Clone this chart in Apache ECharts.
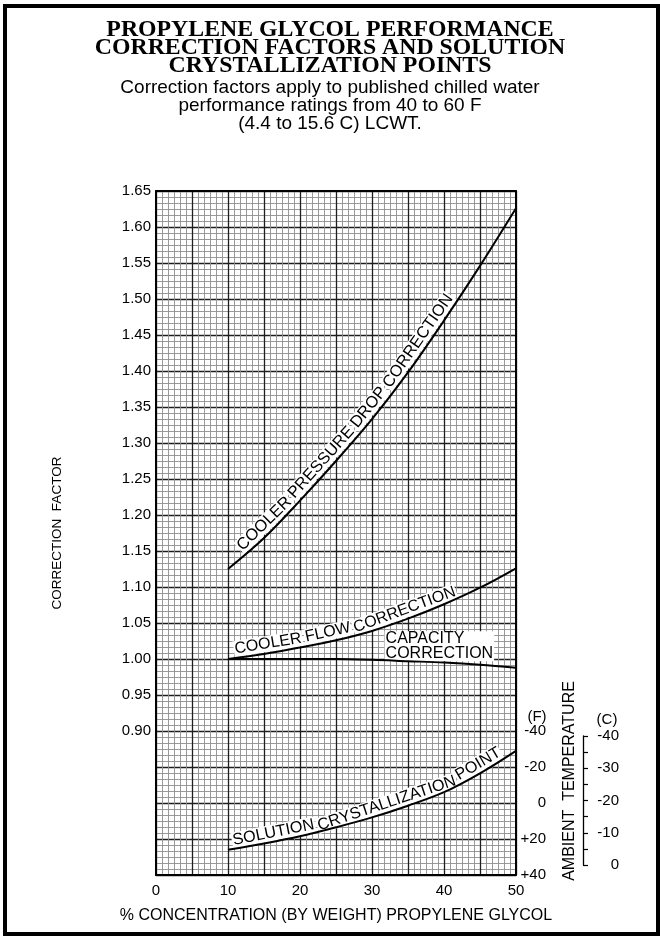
<!DOCTYPE html>
<html><head><meta charset="utf-8">
<script src="https://cdn.jsdelivr.net/npm/echarts/dist/echarts.min.js"></script>
<style>html,body{margin:0;padding:0;background:#fff}#c{width:660px;height:936px}</style>
</head><body><div id="c"></div>
<script>
// ---- data ----
const concentration    = [10, 15, 20, 25, 30, 35, 40, 45, 50];
const pressureDrop     = [1.125, 1.168, 1.220, 1.275, 1.333, 1.398, 1.470, 1.546, 1.626];
const coolerFlow       = [1.000, 1.007, 1.016, 1.026, 1.039, 1.056, 1.076, 1.099, 1.126];
const capacity         = [1.000, 1.000, 1.000, 1.000, 0.999, 0.997, 0.995, 0.992, 0.988];
const crystallizationF = [26, 22.5, 18.5, 13.5, 8, 1.5, -6, -16.5, -29];
const xTicks = [0, 10, 20, 30, 40, 50];
const yTicks = [0.90, 0.95, 1.00, 1.05, 1.10, 1.15, 1.20, 1.25, 1.30, 1.35, 1.40, 1.45, 1.50, 1.55, 1.60, 1.65];
const fTicks = [-40, -20, 0, 20, 40];
const cTicks = [-40, -30, -20, -10, 0];

const titleLines = ['PROPYLENE GLYCOL PERFORMANCE', 'CORRECTION FACTORS AND SOLUTION', 'CRYSTALLIZATION POINTS'];
const subLines = ['Correction factors apply to published chilled water', 'performance ratings from 40 to 60 F', '(4.4 to 15.6 C) LCWT.'];

const SANS = 'Liberation Sans';
const pairs = (xs, ys) => xs.map((x, i) => [x, ys[i]]);
const near = (arr, v) => arr.some(t => Math.abs(t - v) < 1e-6);

const chart = echarts.init(document.getElementById('c'));
const lineStyle = { color: '#000', width: 2 };

chart.setOption({
  animation: false,
  backgroundColor: '#fff',
  grid: [
    { left: 156, top: 191, width: 360, height: 684 },
    { left: 582, top: 736, width: 1, height: 129 }
  ],
  xAxis: [
    { gridIndex: 0, type: 'value', min: 0, max: 50, interval: 5,
      axisLine: { show: true, onZero: false, lineStyle: { color: '#000', width: 2 } },
      axisTick: { show: false },
      axisLabel: { formatter: v => near(xTicks, v) ? String(v) : '', color: '#000', fontSize: 15, fontFamily: SANS, margin: 8 },
      splitLine: { show: true, lineStyle: { color: '#1e1e1e', width: 1.3 } },
      minorTick: { show: false, splitNumber: 6 },
      minorSplitLine: { show: true, lineStyle: { color: '#8e8e8e', width: 0.9 } },
      name: '% CONCENTRATION (BY WEIGHT) PROPYLENE GLYCOL', nameLocation: 'middle', nameGap: 33,
      nameTextStyle: { color: '#000', fontSize: 16, fontFamily: SANS } },
    { gridIndex: 0, type: 'value', position: 'top', min: 0, max: 50,
      axisLine: { show: true, onZero: false, lineStyle: { color: '#000', width: 2 } },
      axisTick: { show: false }, axisLabel: { show: false }, splitLine: { show: false } },
    { gridIndex: 1, type: 'value', min: 0, max: 1, show: false }
  ],
  yAxis: [
    { gridIndex: 0, type: 'value', min: 0.70, max: 1.65, interval: 0.05,
      axisLine: { show: true, onZero: false, lineStyle: { color: '#000', width: 2 } },
      axisTick: { show: false },
      axisLabel: { formatter: v => near(yTicks, v) ? v.toFixed(2) : '', color: '#000', fontSize: 15, fontFamily: SANS, margin: 5 },
      splitLine: { show: true, lineStyle: { color: '#1e1e1e', width: 1.3 } },
      minorTick: { show: false, splitNumber: 6 },
      minorSplitLine: { show: true, lineStyle: { color: '#8e8e8e', width: 0.9 } },
      name: 'CORRECTION  FACTOR', nameLocation: 'middle', nameGap: 92, nameRotate: 90,
      nameTextStyle: { color: '#000', fontSize: 13.5, fontFamily: SANS } },
    { gridIndex: 0, type: 'value', position: 'right', inverse: true, min: -340, max: 40, interval: 20,
      axisLine: { show: true, onZero: false, lineStyle: { color: '#000', width: 2 } },
      axisTick: { show: false }, splitLine: { show: false },
      axisLabel: { formatter: v => near(fTicks, v) ? (v > 0 ? '+' + v : String(v)) : '', align: 'right', margin: 30,
                   color: '#000', fontSize: 15, fontFamily: SANS } },
    { gridIndex: 1, type: 'value', position: 'right', inverse: true, min: -40, max: 0, interval: 5,
      axisLine: { show: true, onZero: false, lineStyle: { color: '#000', width: 1.3 } },
      axisTick: { show: true, length: 5, lineStyle: { color: '#000', width: 1.2 } },
      splitLine: { show: false },
      axisLabel: { formatter: v => near(cTicks, v) ? String(v) : '', align: 'right', margin: 36,
                   color: '#000', fontSize: 15, fontFamily: SANS } }
  ],
  series: [
    { name: 'Cooler Pressure Drop Correction', type: 'line', xAxisIndex: 0, yAxisIndex: 0, data: pairs(concentration, pressureDrop), smooth: 0.35, symbol: 'none', lineStyle, z: 3 },
    { name: 'Cooler Flow Correction', type: 'line', xAxisIndex: 0, yAxisIndex: 0, data: pairs(concentration, coolerFlow), smooth: 0.35, symbol: 'none', lineStyle, z: 3 },
    { name: 'Capacity Correction', type: 'line', xAxisIndex: 0, yAxisIndex: 0, data: pairs(concentration, capacity), smooth: 0.35, symbol: 'none', lineStyle, z: 3 },
    { name: 'Solution Crystallization Point', type: 'line', xAxisIndex: 0, yAxisIndex: 1, data: pairs(concentration, crystallizationF), smooth: 0.35, symbol: 'none', lineStyle, z: 3 }
  ]
});

// ---- labels placed along the curves ----
const mctx = document.createElement('canvas').getContext('2d');
function tw(t, size) { mctx.font = size + 'px "' + SANS + '"'; return mctx.measureText(t).width; }

function densePath(seriesIndex, xs, ys) {
  const P = xs.map((x, i) => chart.convertToPixel({ seriesIndex }, [x, ys[i]]));
  const out = [];
  for (let i = 0; i < P.length - 1; i++) {
    const p0 = P[Math.max(i - 1, 0)], p1 = P[i], p2 = P[i + 1], p3 = P[Math.min(i + 2, P.length - 1)];
    for (let k = 0; k < 20; k++) {
      const t = k / 20, t2 = t * t, t3 = t2 * t;
      out.push([0, 1].map(j => 0.5 * ((2 * p1[j]) + (-p0[j] + p2[j]) * t + (2 * p0[j] - 5 * p1[j] + 4 * p2[j] - p3[j]) * t2 + (-p0[j] + 3 * p1[j] - 3 * p2[j] + p3[j]) * t3)));
    }
  }
  out.push(P[P.length - 1]);
  return out;
}

function wordsAlong(path, text, startPx, offset, size) {
  const cum = [0];
  for (let i = 1; i < path.length; i++) cum.push(cum[i - 1] + Math.hypot(path[i][0] - path[i - 1][0], path[i][1] - path[i - 1][1]));
  const at = s => {
    let i = 1; while (i < path.length - 1 && cum[i] < s) i++;
    const a = path[i - 1], b = path[i], seg = cum[i] - cum[i - 1], t = seg ? (s - cum[i - 1]) / seg : 0;
    return [a[0] + (b[0] - a[0]) * t, a[1] + (b[1] - a[1]) * t];
  };
  const angleAt = (s, h) => { const p1 = at(Math.max(0, s - h)), p2 = at(s + h); return Math.atan2(p2[1] - p1[1], p2[0] - p1[0]); };
  let s0 = 0; for (let i = 0; i < path.length; i++) { if (path[i][0] >= startPx) { s0 = cum[i]; break; } }
  const els = []; const sp = tw(' ', size); let s = s0;
  text.split(' ').forEach(w => {
    const wd = tw(w, size), mid = s + wd / 2, p = at(mid), ang = angleAt(mid, wd / 2);
    els.push({ type: 'text', z: 1, x: p[0] + Math.sin(ang) * offset, y: p[1] - Math.cos(ang) * offset, rotation: -ang,
      style: { text: w, fill: '#000', fontSize: size, fontFamily: SANS, textAlign: 'center', textVerticalAlign: 'middle',
               align: 'center', verticalAlign: 'middle', backgroundColor: '#fff', padding: [0, 1] } });
    s += wd + sp;
  });
  return els;
}

const px = (x) => chart.convertToPixel({ xAxisIndex: 0 }, x);
const pPath = densePath(0, concentration, pressureDrop);
const fPath = densePath(1, concentration, coolerFlow);
const capPath = densePath(2, concentration, capacity);
const cPath = densePath(3, concentration, crystallizationF);

let capPt = capPath.find(p => p[0] >= px(31.6));
const fTop = chart.convertToPixel({ yAxisIndex: 1 }, -40);
const cTop = chart.convertToPixel({ gridIndex: 1 }, [0, -40]);
const centerText = (text, x, y, extra) => ({ type: 'text', x, y, ...(extra || {}),
  style: Object.assign({ text, fill: '#000', fontSize: 15, fontFamily: SANS, textAlign: 'center', textVerticalAlign: 'middle', align: 'center', verticalAlign: 'middle' }, (extra && extra.s) || {}) });

const graphics = [
  // title and subtitle
  { type: 'text', x: 330, y: 48,
    style: { text: titleLines.join('\n'), fill: '#000', fontFamily: 'Liberation Serif', fontWeight: 'bold', fontSize: 23.8, lineHeight: 18,
             textAlign: 'center', textVerticalAlign: 'middle', align: 'center', verticalAlign: 'middle' } },
  { type: 'text', x: 330, y: 106,
    style: { text: subLines.join('\n'), fill: '#000', fontFamily: SANS, fontSize: 19, lineHeight: 18,
             textAlign: 'center', textVerticalAlign: 'middle', align: 'center', verticalAlign: 'middle' } },
  ...wordsAlong(pPath, 'COOLER PRESSURE DROP CORRECTION', px(12.2), 10, 16.4),
  ...wordsAlong(fPath, 'COOLER FLOW CORRECTION', px(11.0), 9.5, 16),
  ...wordsAlong(cPath, 'SOLUTION CRYSTALLIZATION POINT', px(10.7), 9, 16.2),
  { type: 'text', z: 1, x: capPt[0], y: capPt[1] + 1,
    style: { text: 'CAPACITY\nCORRECTION', fill: '#000', fontSize: 16, fontFamily: SANS, lineHeight: 15,
             textAlign: 'left', textVerticalAlign: 'bottom', align: 'left', verticalAlign: 'bottom', backgroundColor: '#fff', padding: [0, 1] } },
  centerText('(F)', px(50) + 21, fTop - 14),
  centerText('(C)', cTop[0] + 25, cTop[1] - 16),
  { type: 'text', x: 570, y: 781, rotation: Math.PI / 2,
    style: { text: 'AMBIENT  TEMPERATURE', fill: '#000', fontSize: 16, fontFamily: SANS, textAlign: 'center', textVerticalAlign: 'middle', align: 'center', verticalAlign: 'middle' } },
  { type: 'rect', z: 10, shape: { x: 5, y: 6, width: 653, height: 928 }, style: { fill: 'none', stroke: '#000', lineWidth: 4 } }
];
chart.setOption({ graphic: graphics });
</script>
</body></html>
